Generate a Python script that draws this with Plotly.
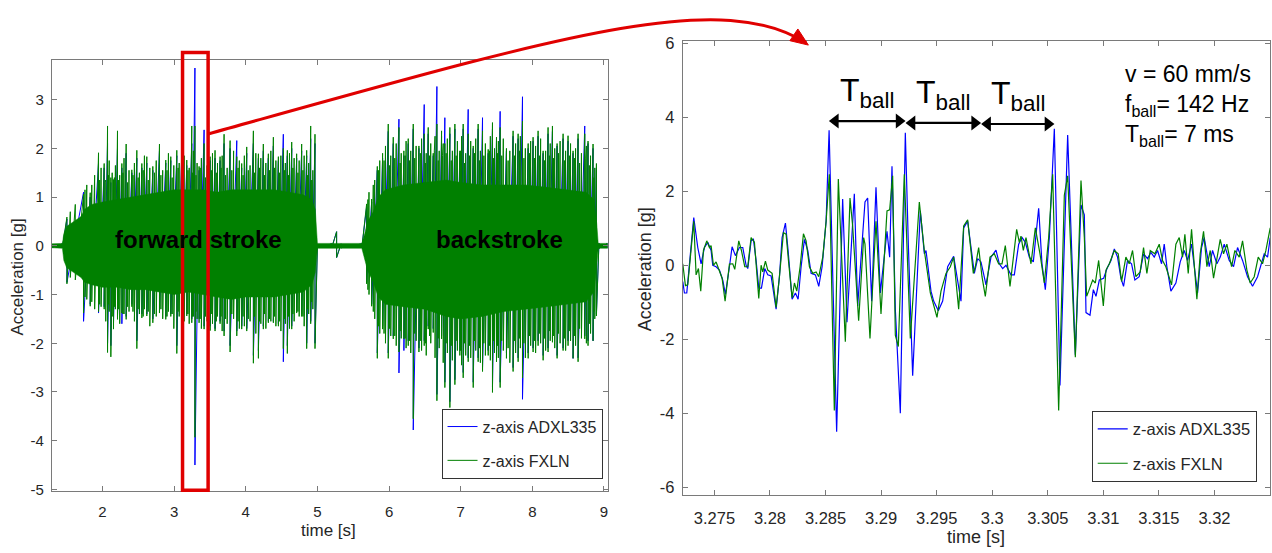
import plotly.graph_objects as go

W, H = 1272, 553
FONT = "Arial, 'Liberation Sans', sans-serif"
BLUE = "#0000ff"
GREEN = "#008000"
RED = "#e00000"
AXIS = "#7a7a7a"
TXT = "#262626"

# ---------------- overview record (left panel) ----------------
# forward stroke: event times [s] with the positive / negative excursion [g]
fwd_t = [1.503, 1.735, 1.828, 1.944, 2.023, 2.070, 2.116, 2.153, 2.209, 2.270,
         2.330, 2.409, 2.479, 2.549, 2.618, 2.702, 2.795, 2.883, 2.953, 3.037,
         3.106, 3.176, 3.246, 3.290, 3.348, 3.418, 3.502, 3.571, 3.641, 3.697,
         3.781, 3.874, 3.943, 4.013, 4.106, 4.176, 4.245, 4.315, 4.385, 4.455,
         4.524, 4.580, 4.641, 4.710, 4.780, 4.850, 4.906, 4.966]
fxln_fwd_hi = [0.59, 1.06, 1.09, 1.91, 1.69, 2.46, 1.40, 1.36, 2.36, 1.69,
               2.09, 1.56, 1.96, 1.69, 1.83, 1.63, 2.09, 1.76, 1.83, 1.96,
               2.09, 1.76, 2.46, 2.46, 1.63, 2.10, 1.83, 1.96, 1.83, 2.29,
               2.16, 1.83, 1.69, 2.03, 2.36, 1.89, 2.09, 1.89, 2.23, 1.83,
               2.00, 1.96, 2.13, 1.89, 2.09, 1.96, 2.46, 2.29]
fxln_fwd_lo = [-0.78, -1.38, -1.24, -1.35, -1.30, -2.19, -2.28, -1.71, -1.51, -1.38,
               -1.51, -1.25, -2.11, -1.48, -1.44, -1.58, -1.38, -1.51, -1.45, -2.21,
               -1.64, -1.44, -1.58, -3.93, -1.58, -1.71, -1.74, -1.75, -1.60, -1.85,
               -2.18, -1.85, -1.71, -1.75, -2.41, -2.31, -1.71, -1.58, -1.58, -1.65,
               -2.11, -2.21, -1.71, -1.38, -1.45, -2.11, -1.60, -2.11]
adxl_fwd_hi = [0.55, 1.10, 1.00, 1.70, 1.60, 2.10, 1.30, 1.30, 2.00, 1.60,
               1.90, 1.50, 1.80, 1.60, 1.70, 1.55, 1.95, 1.70, 1.75, 1.85,
               1.90, 1.65, 2.10, 3.65, 1.55, 2.38, 1.75, 1.80, 1.75, 2.10,
               2.00, 2.16, 1.60, 1.90, 2.10, 1.80, 1.95, 1.80, 2.05, 1.75,
               2.29, 1.85, 2.00, 1.80, 1.95, 1.85, 2.20, 2.10]
adxl_fwd_lo = [-0.75, -1.55, -1.20, -1.38, -1.25, -2.00, -2.05, -1.60, -1.45, -1.60,
               -1.45, -1.20, -1.95, -1.40, -1.40, -1.50, -1.35, -1.45, -1.40, -2.05,
               -1.55, -1.40, -1.50, -4.50, -1.50, -1.65, -1.65, -1.70, -1.55, -1.75,
               -2.05, -1.75, -1.65, -1.70, -2.25, -2.15, -1.65, -1.55, -1.55, -1.60,
               -2.38, -2.05, -1.65, -1.35, -1.40, -2.00, -1.55, -2.00]
# medium FXLN excursions between the events above
fwd_mid_t = [1.62, 1.78, 1.89, 1.98, 2.045, 2.093, 2.135, 2.18, 2.24, 2.30,
             2.37, 2.445, 2.515, 2.585, 2.66, 2.75, 2.84, 2.92, 2.995, 3.07,
             3.14, 3.21, 3.268, 3.32, 3.38, 3.46, 3.535, 3.605, 3.67, 3.74,
             3.83, 3.91, 3.98, 4.06, 4.14, 4.21, 4.28, 4.35, 4.42, 4.49,
             4.552, 4.61, 4.675, 4.745, 4.815, 4.878, 4.936]
fxln_fwd_mid_hi = [0.85, 1.25, 1.45, 1.60, 1.35, 1.75, 1.50, 1.65, 1.45, 1.80,
                   1.55, 1.70, 1.50, 1.85, 1.60, 1.75, 1.55, 1.90, 1.65, 1.70,
                   1.85, 1.60, 1.95, 1.70, 1.80, 1.65, 1.90, 1.70, 1.85, 1.60,
                   1.95, 1.75, 1.85, 1.65, 1.90, 1.80, 1.70, 1.95, 1.75, 1.85,
                   1.70, 1.90, 1.80, 1.75, 1.85, 1.70, 1.55]
fxln_fwd_mid_lo = [-0.70, -1.10, -1.30, -1.25, -1.55, -1.35, -1.45, -1.30, -1.60, -1.40,
                   -1.35, -1.55, -1.40, -1.30, -1.65, -1.45, -1.50, -1.35, -1.70, -1.45,
                   -1.55, -1.60, -1.45, -1.50, -1.70, -1.55, -1.60, -1.45, -1.75, -1.60,
                   -1.50, -1.70, -1.65, -1.55, -1.80, -1.60, -1.70, -1.55, -1.65, -1.75,
                   -1.60, -1.70, -1.55, -1.45, -1.65, -1.40, -1.30]
# small FXLN excursions
fwd_small_t = [1.55, 1.755, 1.85, 1.96, 2.035, 2.082, 2.125, 2.165, 2.225, 2.285,
               2.35, 2.425, 2.497, 2.567, 2.638, 2.725, 2.815, 2.90, 2.972, 3.055,
               3.123, 3.192, 3.257, 3.305, 3.363, 3.438, 3.518, 3.588, 3.655, 3.718,
               3.805, 3.892, 3.962, 4.035, 4.123, 4.192, 4.262, 4.332, 4.402, 4.472,
               4.538, 4.595, 4.658, 4.728, 4.798, 4.864, 4.921]
fxln_fwd_small_hi = [0.70, 1.15, 1.25, 1.35, 1.30, 1.45, 1.25, 1.40, 1.35, 1.50,
                     1.30, 1.45, 1.40, 1.55, 1.35, 1.50, 1.45, 1.55, 1.40, 1.60,
                     1.45, 1.55, 1.50, 1.45, 1.60, 1.40, 1.55, 1.50, 1.60, 1.45,
                     1.55, 1.60, 1.45, 1.55, 1.50, 1.60, 1.45, 1.55, 1.60, 1.50,
                     1.55, 1.45, 1.60, 1.50, 1.55, 1.45, 1.35]
fxln_fwd_small_lo = [-0.65, -1.05, -1.15, -1.20, -1.30, -1.20, -1.35, -1.25, -1.30, -1.40,
                     -1.25, -1.35, -1.30, -1.45, -1.35, -1.40, -1.30, -1.45, -1.40, -1.35,
                     -1.50, -1.40, -1.45, -1.35, -1.50, -1.45, -1.40, -1.55, -1.45, -1.50,
                     -1.40, -1.55, -1.45, -1.50, -1.45, -1.55, -1.40, -1.50, -1.45, -1.55,
                     -1.50, -1.45, -1.40, -1.35, -1.45, -1.30, -1.15]

# backstroke
back_t = [5.687, 5.757, 5.836, 5.910, 5.989, 6.059, 6.138, 6.207, 6.268, 6.338,
          6.417, 6.491, 6.547, 6.617, 6.668, 6.733, 6.779, 6.849, 6.919, 6.988,
          7.035, 7.105, 7.175, 7.244, 7.305, 7.384, 7.444, 7.500, 7.551, 7.639,
          7.732, 7.802, 7.863, 7.942, 8.011, 8.081, 8.151, 8.220, 8.281, 8.346,
          8.430, 8.499, 8.569, 8.639, 8.732, 8.778, 8.848, 8.895]
fxln_back_hi = [0.86, 0.96, 1.63, 1.90, 2.50, 2.23, 2.43, 1.95, 2.20, 2.50,
                2.05, 2.30, 2.43, 1.90, 2.50, 2.36, 2.10, 2.43, 2.50, 1.95,
                2.50, 2.30, 2.05, 2.50, 2.36, 1.98, 2.53, 2.23, 2.43, 2.00,
                2.36, 2.30, 2.56, 2.10, 2.23, 2.36, 1.95, 2.43, 2.46, 2.10,
                2.30, 2.26, 1.95, 2.30, 2.30, 2.15, 2.09, 1.69]
fxln_back_lo = [-0.78, -1.24, -2.31, -1.71, -2.31, -1.91, -2.18, -1.91, -2.05, -3.55,
                -2.18, -2.05, -1.71, -1.78, -3.18, -1.91, -2.91, -3.32, -2.85, -2.25,
                -2.71, -2.38, -2.91, -2.38, -2.58, -2.25, -3.01, -2.38, -2.91, -2.31,
                -2.58, -2.38, -2.71, -2.31, -2.18, -2.05, -2.35, -2.18, -1.98, -2.31,
                -2.15, -2.05, -2.31, -2.38, -1.91, -2.05, -1.95, -1.44]
adxl_back_hi = [0.80, 0.90, 1.55, 1.80, 2.35, 2.10, 2.60, 1.85, 2.10, 2.40,
                2.00, 2.90, 2.30, 1.85, 3.27, 2.25, 2.63, 2.30, 2.40, 1.90,
                2.40, 2.80, 2.00, 2.40, 2.63, 1.90, 2.40, 2.15, 2.76, 1.95,
                2.25, 2.20, 3.06, 2.00, 2.15, 2.25, 1.90, 2.30, 2.35, 2.05,
                2.20, 2.15, 1.90, 2.20, 2.46, 2.10, 2.00, 1.60]
adxl_back_lo = [-0.75, -1.20, -2.20, -1.65, -2.20, -1.85, -2.61, -2.15, -1.95, -3.78,
                -2.10, -1.95, -1.65, -1.70, -3.05, -1.85, -2.80, -3.20, -2.75, -2.15,
                -2.60, -2.30, -2.80, -2.30, -2.50, -2.15, -2.90, -2.30, -2.80, -2.20,
                -2.50, -2.30, -3.15, -2.20, -2.10, -1.95, -2.25, -2.10, -1.90, -2.25,
                -2.10, -1.95, -2.31, -2.30, -1.85, -1.95, -1.95, -1.40]
back_mid_t = [5.72, 5.80, 5.87, 5.95, 6.024, 6.10, 6.17, 6.238, 6.303, 6.378,
              6.454, 6.519, 6.582, 6.642, 6.70, 6.756, 6.814, 6.884, 6.954, 7.012,
              7.07, 7.14, 7.21, 7.275, 7.345, 7.414, 7.472, 7.526, 7.595, 7.686,
              7.767, 7.833, 7.903, 7.977, 8.046, 8.116, 8.186, 8.25, 8.313, 8.388,
              8.465, 8.534, 8.604, 8.686, 8.755, 8.813, 8.872]
fxln_back_mid_hi = [1.10, 1.35, 1.75, 2.05, 1.85, 2.10, 1.90, 2.15, 1.95, 2.05,
                    2.20, 1.90, 2.10, 2.25, 1.95, 2.10, 2.20, 1.95, 2.15, 2.25,
                    1.90, 2.15, 2.20, 1.95, 2.10, 2.25, 2.00, 2.15, 2.20, 1.95,
                    2.10, 2.25, 2.00, 2.15, 2.05, 2.20, 1.95, 2.10, 2.00, 2.15,
                    1.95, 2.10, 2.00, 1.90, 2.05, 1.85, 1.60]
fxln_back_mid_lo = [-1.00, -1.50, -1.80, -2.00, -1.85, -2.05, -1.90, -2.10, -2.20, -1.95,
                    -2.15, -2.25, -2.00, -2.30, -2.10, -2.40, -2.20, -2.35, -2.15, -2.45,
                    -2.25, -2.30, -2.15, -2.40, -2.25, -2.35, -2.20, -2.30, -2.15, -2.40,
                    -2.20, -2.10, -2.30, -2.05, -2.20, -2.00, -2.15, -1.95, -2.10, -2.00,
                    -2.15, -1.95, -2.05, -1.90, -2.00, -1.80, -1.50]
back_small_t = [5.705, 5.78, 5.855, 5.93, 6.008, 6.08, 6.155, 6.225, 6.287, 6.358,
                6.436, 6.507, 6.565, 6.632, 6.686, 6.746, 6.797, 6.868, 6.937, 7.001,
                7.053, 7.124, 7.193, 7.262, 7.324, 7.401, 7.461, 7.515, 7.573, 7.662,
                7.75, 7.82, 7.883, 7.96, 8.029, 8.099, 8.17, 8.238, 8.298, 8.366,
                8.448, 8.517, 8.587, 8.66, 8.745, 8.796, 8.86]
fxln_back_small_hi = [0.95, 1.25, 1.55, 1.75, 1.65, 1.80, 1.70, 1.85, 1.75, 1.80,
                      1.90, 1.70, 1.85, 1.95, 1.75, 1.85, 1.90, 1.75, 1.85, 1.95,
                      1.70, 1.85, 1.90, 1.75, 1.85, 1.95, 1.80, 1.90, 1.85, 1.75,
                      1.85, 1.95, 1.80, 1.90, 1.80, 1.85, 1.75, 1.85, 1.80, 1.90,
                      1.75, 1.85, 1.80, 1.70, 1.80, 1.65, 1.40]
fxln_back_small_lo = [-0.90, -1.35, -1.65, -1.80, -1.70, -1.85, -1.75, -1.90, -1.95, -1.80,
                      -1.95, -2.00, -1.85, -2.05, -1.90, -2.10, -2.00, -2.05, -1.95, -2.15,
                      -2.00, -2.05, -1.95, -2.10, -2.00, -2.05, -1.95, -2.05, -1.95, -2.10,
                      -1.95, -1.90, -2.00, -1.85, -1.95, -1.80, -1.90, -1.75, -1.85, -1.80,
                      -1.90, -1.75, -1.85, -1.70, -1.80, -1.60, -1.35]

# resting phases (sensor idle between strokes)
idle_t = [1.30, 1.44, 5.00, 5.20, 5.268, 5.33, 5.62, 8.93, 9.05]
idle_hi = [0.03, 0.04, 0.04, 0.04, 0.29, 0.04, 0.04, 0.05, 0.05]
idle_lo = [-0.03, -0.04, -0.04, -0.04, -0.24, -0.04, -0.04, -0.05, -0.05]

# dense vibration band (envelope of the continuous signal)
env_t = [1.294, 1.44, 1.46, 1.50, 1.60, 1.70, 1.75, 1.85, 2.00, 2.20,
         2.40, 2.60, 2.80, 3.00, 3.20, 3.40, 3.60, 3.80, 4.00, 4.20,
         4.40, 4.60, 4.80, 4.92, 4.97, 5.00, 5.62, 5.66, 5.70, 5.78,
         5.85, 5.95, 6.20, 6.50, 6.80, 7.00, 7.30, 7.60, 7.90, 8.20,
         8.50, 8.75, 8.86, 8.90, 8.92, 9.05]
env_hi = [0.04, 0.05, 0.25, 0.40, 0.50, 0.60, 0.75, 0.85, 0.90, 0.95,
          1.00, 1.05, 1.10, 1.15, 1.15, 1.15, 1.10, 1.15, 1.15, 1.15,
          1.15, 1.10, 1.05, 0.95, 0.75, 0.05, 0.05, 0.25, 0.50, 0.70,
          1.00, 1.15, 1.25, 1.30, 1.35, 1.30, 1.25, 1.25, 1.25, 1.20,
          1.15, 1.10, 0.95, 0.45, 0.05, 0.05]
env_lo = [-0.04, -0.05, -0.30, -0.45, -0.55, -0.65, -0.75, -0.80, -0.85, -0.85,
          -0.90, -0.90, -0.95, -1.00, -0.95, -1.00, -1.05, -1.10, -1.05, -1.05,
          -1.05, -1.00, -0.95, -0.80, -0.55, -0.05, -0.05, -0.30, -0.50, -0.75,
          -1.05, -1.20, -1.25, -1.30, -1.45, -1.50, -1.45, -1.35, -1.30, -1.25,
          -1.20, -1.15, -0.95, -0.40, -0.05, -0.05]

# ---------------- detail window (right panel), time in ms after 3.27 s ----------------
adxl_ms = [2.15, 2.30, 2.51, 2.75, 3.14, 3.50, 3.80, 4.10, 4.40, 4.70,
           4.85, 5.15, 5.45, 5.75, 5.99, 6.35, 6.59, 6.89, 7.25, 7.55,
           7.85, 8.00, 8.30, 8.51, 8.75, 8.99, 9.23, 9.53, 9.80, 10.10,
           10.55, 10.85, 11.09, 11.39, 11.63, 11.99, 12.29, 12.53, 12.80, 13.10,
           13.40, 13.70, 14.09, 14.39, 14.69, 15.05, 15.32, 16.00, 16.54, 16.93,
           17.59, 17.89, 18.25, 18.55, 18.79, 19.15, 19.54, 19.93, 20.53, 20.77,
           20.98, 21.28, 21.73, 22.18, 22.45, 22.84, 23.53, 23.89, 24.04, 24.49,
           24.73, 25.15, 25.54, 25.99, 26.53, 26.89, 27.19, 27.43, 27.79, 28.39,
           28.69, 28.99, 29.44, 29.89, 30.34, 30.64, 30.94, 31.24, 31.69, 31.99,
           32.38, 32.68, 32.98, 33.34, 33.70, 34.18, 34.48, 34.78, 35.14, 35.59,
           36.10, 36.79, 37.48, 37.99, 38.29, 38.44, 38.80, 39.10, 39.34, 39.64,
           40.03, 40.33, 40.69, 40.99, 41.28, 41.58, 41.82, 42.18, 42.54, 42.84,
           43.23, 43.62, 43.98, 44.28, 44.58, 44.88, 45.24, 45.48, 45.72, 46.08,
           46.53, 46.92, 47.28, 47.58, 47.94, 48.48, 48.84, 49.08, 49.53, 49.83,
           50.22, 50.52, 50.88, 51.33, 51.72, 52.08, 52.53, 52.98, 53.43, 53.88,
           54.18, 54.48, 54.78, 55.02]
adxl_g = [-0.44, -0.75, -0.75, 0.04, 1.29, 0.48, 0.04, 0.48, 0.62, 0.40,
          0.00, -0.04, -0.13, -0.40, -0.79, -0.04, 0.50, 0.26, 0.48, 0.48,
          0.00, -0.09, 0.66, 0.70, 0.13, -0.62, -0.62, -0.09, -0.26, -0.29,
          -1.19, -0.31, 0.75, 1.14, 0.40, -0.92, -0.75, -0.92, -0.04, 0.70,
          0.40, -0.22, -0.26, -0.57, -0.04, 1.19, 3.65, -4.50, 1.79, -1.54,
          1.93, -1.10, 0.30, 1.71, 1.82, -0.97, 2.11, -0.75, 0.92, 0.22,
          2.68, -1.19, -4.00, 3.58, 0.57, -2.99, 1.47, 0.31, 0.40, -0.70,
          -0.97, -1.23, -0.97, -0.04, 0.24, -0.48, -0.97, 1.01, 1.19, -0.22,
          0.18, 0.09, -0.53, 0.22, 0.41, 0.04, -0.09, 0.00, -0.26, -0.26,
          0.57, 0.75, 0.62, 0.22, 0.09, 1.54, 0.04, -0.66, 0.75, 3.69,
          -3.25, 3.52, -2.42, 1.63, 1.36, -1.28, -1.35, -0.66, -0.84, -0.40,
          -0.35, -0.09, 0.13, 0.44, 0.22, -0.35, -0.57, 0.13, 0.04, -0.40,
          -0.31, 0.31, 0.18, 0.35, 0.22, 0.40, 0.04, 0.57, -0.04, -0.70,
          -0.48, 0.09, 0.40, 0.13, 0.57, -0.75, 0.48, 0.75, -0.04, 0.40,
          0.04, 0.22, 0.57, 0.13, -0.04, 0.48, 0.13, -0.31, -0.57, -0.31,
          0.04, 0.31, 0.22, 0.75]

fxln_ms = [2.15, 2.39, 2.60, 2.81, 3.14, 3.35, 3.56, 3.77, 4.01, 4.31,
           4.55, 4.70, 4.91, 5.15, 5.39, 5.69, 5.96, 6.35, 6.65, 6.83,
           7.19, 7.43, 7.73, 8.00, 8.30, 8.60, 8.99, 9.20, 9.35, 9.59,
           9.80, 10.19, 10.55, 10.85, 11.21, 11.45, 11.69, 11.99, 12.20, 12.41,
           12.71, 13.01, 13.25, 13.55, 13.85, 14.15, 14.39, 14.75, 15.05, 15.34,
           15.79, 16.15, 16.78, 17.20, 17.44, 17.98, 18.43, 18.55, 19.00, 19.54,
           19.99, 20.53, 20.77, 21.04, 21.28, 21.55, 22.09, 22.63, 23.44, 23.89,
           24.43, 25.03, 25.39, 25.84, 26.23, 26.53, 26.98, 27.43, 27.79, 28.30,
           28.48, 28.78, 29.08, 29.38, 29.80, 30.19, 30.58, 30.88, 31.18, 31.60,
           32.20, 32.44, 32.59, 32.80, 33.04, 33.49, 33.88, 34.30, 34.69, 35.08,
           35.44, 35.98, 36.49, 36.79, 37.48, 37.99, 38.29, 38.50, 38.68, 39.04,
           39.28, 39.58, 40.00, 40.24, 40.54, 40.99, 41.34, 41.64, 42.03, 42.33,
           42.63, 42.93, 43.32, 43.62, 43.92, 44.22, 44.64, 45.03, 45.33, 45.63,
           46.14, 46.53, 46.83, 47.13, 47.34, 47.64, 47.94, 48.18, 48.42, 48.72,
           49.02, 49.32, 49.62, 49.92, 50.28, 50.52, 50.82, 51.12, 51.54, 51.84,
           52.23, 52.53, 52.92, 53.22, 53.58, 53.94, 54.33, 54.63, 55.02]
fxln_g = [0.04, -0.55, -0.53, 0.22, 1.19, -0.26, -0.09, -0.70, 0.40, 0.66,
          0.48, 0.53, 0.00, 0.09, -0.11, -0.35, -0.97, 0.03, 0.04, -0.11,
          0.66, 0.40, -0.04, -0.04, 0.75, 0.62, -0.90, 0.00, -0.18, 0.11,
          -0.13, -0.22, -1.14, -0.31, 0.88, 0.84, 0.04, -0.88, -0.48, -0.70,
          -0.04, 0.85, 0.66, -0.04, -0.22, -0.18, -0.31, 0.22, 1.19, 2.46,
          -3.93, 2.33, -2.07, 1.82, 1.06, -1.50, 0.75, 0.57, -1.98, 1.19,
          -1.32, 1.47, 1.50, 2.42, -1.89, -2.20, 2.46, -1.98, 1.71, 0.40,
          -0.75, -1.41, -0.70, -0.22, -0.04, 0.22, -1.19, 1.06, 1.23, -0.22,
          -0.04, 0.48, -0.31, -0.84, 0.22, 0.31, 0.04, 0.04, 0.53, -0.57,
          0.97, 0.62, 0.79, 0.40, 0.75, 0.04, 1.01, 0.31, -0.48, 0.75,
          2.46, -3.93, 1.89, 2.42, -2.49, 2.29, 0.75, -0.84, -0.70, -0.40,
          -0.48, 0.13, -1.10, -0.13, 0.04, 0.40, 0.31, -0.44, 0.22, 0.04,
          0.40, -0.31, -0.18, 0.48, -0.22, 0.40, 0.31, 0.57, 0.13, -0.04,
          -0.53, 0.57, 0.75, 0.22, 0.84, -0.22, 0.97, -0.13, -0.92, 0.31,
          0.92, -0.04, 0.40, -0.35, 0.22, 0.70, 0.31, 0.57, -0.04, 0.40,
          0.22, 0.66, -0.13, -0.48, -0.31, 0.22, 0.04, 0.40, 1.01]

# ball passages marked in the detail window [s]
ball_t = [3.2853, 3.2922, 3.2990, 3.3056]
ball_arrow_g = [3.90, 3.85, 3.82]

# tick labels
left_xticks = [2, 3, 4, 5, 6, 7, 8, 9]
left_yticks = [-5, -4, -3, -2, -1, 0, 1, 2, 3]
right_xticks = [3.275, 3.28, 3.285, 3.29, 3.295, 3.3, 3.305, 3.31, 3.315, 3.32]
right_xlabels = ["3.275", "3.28", "3.285", "3.29", "3.295", "3.3", "3.305", "3.31", "3.315", "3.32"]
right_yticks = [-6, -4, -2, 0, 2, 4, 6]

# zoom window drawn on the overview [s]
zoom_box_t = (3.117, 3.474)

# axis geometry (figure pixels) and ranges
L_DOM_X, L_DOM_Y = (52, 608), (496, 54)
R_DOM_X, R_DOM_Y = (683.3, 1271), (500, 35)
R_RANGE_X = (3.27215, 3.3250)


def fx(x):
    return x / W


def fy(y):
    return 1 - y / H


def zigzag(t, hi, lo):
    xs, ys = [], []
    for a, b, c in sorted(zip(t, hi, lo)):
        xs += [a, a]
        ys += [b, c]
    return xs, ys


fig = go.Figure()

bx, by = zigzag(fwd_t + back_t + idle_t, adxl_fwd_hi + adxl_back_hi + idle_hi,
                adxl_fwd_lo + adxl_back_lo + idle_lo)
fig.add_trace(go.Scatter(x=bx, y=by, mode="lines", line=dict(color=BLUE, width=1),
                         name="z-axis ADXL335", legend="legend", legendgroup="l1",
                         xaxis="x", yaxis="y", hoverinfo="skip"))
fig.add_trace(go.Scatter(x=env_t + env_t[::-1], y=env_hi + env_lo[::-1], mode="lines",
                         fill="toself", fillcolor=GREEN, line=dict(color=GREEN, width=0.5),
                         showlegend=False, xaxis="x", yaxis="y", hoverinfo="skip"))
gx, gy = zigzag(fwd_t + fwd_mid_t + fwd_small_t + back_t + back_mid_t + back_small_t + idle_t,
                fxln_fwd_hi + fxln_fwd_mid_hi + fxln_fwd_small_hi
                + fxln_back_hi + fxln_back_mid_hi + fxln_back_small_hi + idle_hi,
                fxln_fwd_lo + fxln_fwd_mid_lo + fxln_fwd_small_lo
                + fxln_back_lo + fxln_back_mid_lo + fxln_back_small_lo + idle_lo)
fig.add_trace(go.Scatter(x=gx, y=gy, mode="lines", line=dict(color=GREEN, width=1),
                         name="z-axis FXLN", legend="legend", legendgroup="l2",
                         xaxis="x", yaxis="y", hoverinfo="skip"))

fig.add_trace(go.Scatter(x=[3.27 + m / 1000 for m in adxl_ms], y=adxl_g, mode="lines",
                         line=dict(color=BLUE, width=1.2), name="z-axis ADXL335",
                         legend="legend2", legendgroup="r1", xaxis="x2", yaxis="y2",
                         hoverinfo="skip"))
fig.add_trace(go.Scatter(x=[3.27 + m / 1000 for m in fxln_ms], y=fxln_g, mode="lines",
                         line=dict(color=GREEN, width=1.2), name="z-axis FXLN",
                         legend="legend2", legendgroup="r2", xaxis="x2", yaxis="y2",
                         hoverinfo="skip"))

# ball period arrows: shaft between passages, filled heads with their tips on the passages
HEAD = 13                                   # marker size [px]
sec_per_px = (R_RANGE_X[1] - R_RANGE_X[0]) / (R_DOM_X[1] - R_DOM_X[0])
tip_off = HEAD / 2 * sec_per_px
for i in range(3):
    a, b, g = ball_t[i], ball_t[i + 1], ball_arrow_g[i]
    fig.add_trace(go.Scatter(x=[a + tip_off, b - tip_off], y=[g, g], mode="lines",
                             line=dict(color="black", width=2.2), showlegend=False,
                             xaxis="x2", yaxis="y2", hoverinfo="skip"))
    fig.add_trace(go.Scatter(x=[a + tip_off, b - tip_off], y=[g, g], mode="markers",
                             marker=dict(symbol=["triangle-left", "triangle-right"],
                                         size=HEAD, color="black",
                                         line=dict(width=0)),
                             showlegend=False, xaxis="x2", yaxis="y2", hoverinfo="skip"))

axis_common = dict(showgrid=False, zeroline=False, showline=True, linecolor=AXIS,
                   linewidth=1, mirror="ticks", ticks="inside", ticklen=5,
                   tickcolor=AXIS, tickfont=dict(family=FONT, color=TXT))

fig.update_layout(
    width=W, height=H, margin=dict(l=0, r=0, t=0, b=0),
    paper_bgcolor="white", plot_bgcolor="white", hovermode=False,
    font=dict(family=FONT, color=TXT),
    xaxis=dict(axis_common, domain=[fx(L_DOM_X[0]), fx(L_DOM_X[1])], range=[1.294, 9.05],
               anchor="y", tickvals=left_xticks, ticktext=[str(v) for v in left_xticks],
               tickfont=dict(family=FONT, color=TXT, size=15), ticklabelstandoff=7),
    yaxis=dict(axis_common, domain=[fy(L_DOM_Y[0]), fy(L_DOM_Y[1])], range=[-5.04, 3.82],
               anchor="x", tickvals=left_yticks, ticktext=[str(v) for v in left_yticks],
               tickfont=dict(family=FONT, color=TXT, size=15), ticklabelstandoff=4),
    xaxis2=dict(axis_common, domain=[fx(R_DOM_X[0]), fx(R_DOM_X[1])], range=list(R_RANGE_X),
                anchor="y2", tickvals=right_xticks, ticktext=right_xlabels,
                tickfont=dict(family=FONT, color=TXT, size=16.5), ticklabelstandoff=8),
    yaxis2=dict(axis_common, domain=[fy(R_DOM_Y[0]), fy(R_DOM_Y[1])], range=[-6.22, 6.06],
                anchor="x2", tickvals=right_yticks, ticktext=[str(v) for v in right_yticks],
                tickfont=dict(family=FONT, color=TXT, size=16.5), ticklabelstandoff=4),
    legend=dict(x=fx(603), xanchor="right", y=fy(483), yanchor="bottom",
                bgcolor="white", bordercolor="#333333", borderwidth=1,
                font=dict(family=FONT, size=16, color=TXT), tracegroupgap=10,
                itemwidth=30),
    legend2=dict(x=fx(1257.7), xanchor="right", y=fy(486), yanchor="bottom",
                 bgcolor="white", bordercolor="#333333", borderwidth=1,
                 font=dict(family=FONT, size=16.5, color=TXT), tracegroupgap=10,
                 itemwidth=30),
)

# zoom window and the connector to the detail panel
fig.add_shape(type="rect", xref="x", yref="paper", x0=zoom_box_t[0], x1=zoom_box_t[1],
              y0=fy(495), y1=fy(46.7), line=dict(color=RED, width=3.5), layer="above")
p0, c1, c2, p3 = (208.3, 130), (560, 30), (720, -20), (807, 37)
fig.add_shape(type="path", xref="paper", yref="paper",
              path=f"M {fx(p0[0])},{fy(p0[1])} C {fx(c1[0])},{fy(c1[1])} "
                   f"{fx(c2[0])},{fy(c2[1])} {fx(p3[0])},{fy(p3[1])}",
              line=dict(color=RED, width=3), layer="above")
head = [(809, 39), (790.5, 34.5), (798.5, 22.5)]
fig.add_shape(type="path", xref="paper", yref="paper",
              path="M " + " L ".join(f"{fx(a)},{fy(b)}" for a, b in head) + " Z",
              fillcolor=RED, line=dict(color=RED, width=1), layer="above")

# stroke labels
fig.add_annotation(x=3.337, y=0.13, xref="x", yref="y", text="forward stroke",
                   xanchor="center", yanchor="middle", showarrow=False,
                   font=dict(family=FONT, size=24, color="black", weight="bold"))
fig.add_annotation(x=7.542, y=0.13, xref="x", yref="y", text="backstroke",
                   xanchor="center", yanchor="middle", showarrow=False,
                   font=dict(family=FONT, size=24, color="black", weight="bold"))

for i in range(3):
    fig.add_annotation(x=(ball_t[i] + ball_t[i + 1]) / 2, y=ball_arrow_g[i] + 0.78,
                       xref="x2", yref="y2", text="T<sub>ball</sub>", showarrow=False,
                       xanchor="center", yanchor="middle",
                       font=dict(family=FONT, size=32, color="black"))

fig.add_annotation(x=fx(1124), y=fy(53), xref="paper", yref="paper", xanchor="left",
                   yanchor="top", align="left", showarrow=False,
                   text="v = 60 mm/s<br>f<sub>ball</sub>= 142 Hz<br>T<sub>ball</sub>= 7 ms",
                   font=dict(family=FONT, size=23, color="black"))

# axis titles
for x, y, txt, ang, size in [(18, 276, "Acceleration [g]", -90, 17),
                             (645, 268, "Acceleration [g]", -90, 18),
                             (329, 536, "time [s]", 0, 17),
                             (977, 543, "time [s]", 0, 18)]:
    fig.add_annotation(x=fx(x), y=fy(y), xref="paper", yref="paper", text=txt,
                       textangle=ang, xanchor="center", yanchor="middle", showarrow=False,
                       font=dict(family=FONT, size=size, color=TXT))

fig.write_html("out.html", config={"displayModeBar": False})
